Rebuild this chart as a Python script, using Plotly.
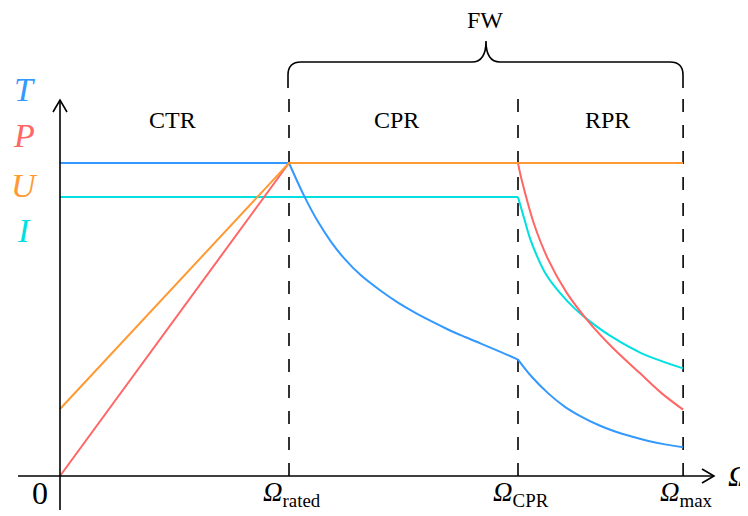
import plotly.graph_objects as go

# ---------------- data (Ω normalised so that Ω_rated = 1) ----------------
omega_ticks = [1.0, 2.0, 2.721]
tick_labels = ["<i>Ω</i><sub>rated</sub>", "<i>Ω</i><sub>CPR</sub>", "<i>Ω</i><sub>max</sub>"]
region_labels = ["CTR", "CPR", "RPR"]
region_centers = [0.49, 1.47, 2.39]

# T (torque)
T_ctr_omega = [0.0, 1.0]
T_ctr = [1.0, 1.0]
T_cpr_omega = [1.0, 1.066, 1.127, 1.183, 1.240, 1.314, 1.402, 1.476, 1.550, 1.620,
               1.694, 1.769, 1.838, 1.913, 2.0]
T_cpr = [1.0, 0.895, 0.812, 0.749, 0.696, 0.641, 0.591, 0.554, 0.522, 0.495,
         0.468, 0.444, 0.423, 0.400, 0.372]
T_rpr_omega = [2.0, 2.060, 2.132, 2.205, 2.278, 2.351, 2.424, 2.496, 2.569, 2.642, 2.721]
T_rpr = [0.372, 0.317, 0.264, 0.221, 0.189, 0.163, 0.142, 0.126, 0.112, 0.101, 0.092]

# P (power)
P_lin_omega = [0.0, 1.0, 2.0]
P_lin = [0.0, 1.0, 1.0]
P_rpr_omega = [2.0, 2.013, 2.031, 2.070, 2.131, 2.213, 2.306, 2.409, 2.533, 2.628, 2.721]
P_rpr = [1.0, 0.955, 0.904, 0.805, 0.693, 0.585, 0.495, 0.413, 0.328, 0.264, 0.212]

# U (voltage)
U_omega = [0.0, 1.0, 2.721]
U_vals = [0.214, 1.0, 1.0]

# I (current)
I_flat_omega = [0.0, 2.0]
I_flat = [0.891, 0.891]
I_rpr_omega = [2.0, 2.015, 2.031, 2.052, 2.081, 2.124, 2.183, 2.249, 2.314, 2.409, 2.540, 2.721]
I_rpr = [0.891, 0.853, 0.812, 0.760, 0.706, 0.642, 0.585, 0.534, 0.494, 0.445, 0.392, 0.344]

# ---------------- styling ----------------
C_T = "#3399ff"
C_P = "#ff6666"
C_U = "#ff9933"
C_I = "#00e0e0"
OFF = 8          # page body margin
W = 748 - OFF
H = 516 - OFF
FONT = "Liberation Serif, Times New Roman, serif"

fig = go.Figure()


def add(xs, ys, color, spline=False):
    fig.add_trace(go.Scatter(
        x=xs, y=ys, mode="lines",
        line=dict(color=color, width=2, shape="spline" if spline else "linear", smoothing=1.0),
        hoverinfo="skip", showlegend=False))


add(I_flat_omega, I_flat, C_I)
add(I_rpr_omega, I_rpr, C_I, spline=True)
add(T_ctr_omega, T_ctr, C_T)
add(T_cpr_omega, T_cpr, C_T, spline=True)
add(T_rpr_omega, T_rpr, C_T, spline=True)
add(P_lin_omega, P_lin, C_P)
add(P_rpr_omega, P_rpr, C_P, spline=True)
add(U_omega, U_vals, C_U)


# window-pixel helpers for decorations (paper coordinates)
def px(x):
    return (x - OFF) / W


def py(y):
    return 1 - (y - OFF) / H


LW = 1.6
shapes = []
# axes
shapes.append(dict(type="line", xref="paper", yref="paper", x0=px(60), x1=px(60), y0=py(510), y1=py(100),
                   line=dict(color="black", width=LW)))
shapes.append(dict(type="line", xref="paper", yref="paper", x0=px(18), x1=px(714), y0=py(476), y1=py(476),
                   line=dict(color="black", width=LW)))
shapes.append(dict(type="path", xref="paper", yref="paper",
                   path=f"M {px(53)},{py(112)} L {px(60)},{py(100)} L {px(67)},{py(112)}",
                   line=dict(color="black", width=LW)))
shapes.append(dict(type="path", xref="paper", yref="paper",
                   path=f"M {px(702)},{py(469)} L {px(714)},{py(476)} L {px(702)},{py(483)}",
                   line=dict(color="black", width=LW)))
# dashed region boundaries
for xv in omega_ticks:
    shapes.append(dict(type="line", xref="x", yref="paper", x0=xv, x1=xv, y0=py(476), y1=py(98),
                       line=dict(color="black", width=LW, dash="13px,13px"), layer="below"))
# brace
pts = [(288, 88), (288, 75), (288, 62), (301, 62), (472, 62), (486, 62), (486, 41),
       (486, 62), (500, 62), (670, 62), (683, 62), (683, 75), (683, 88)]
p = [(px(a), py(b)) for a, b in pts]
brace = (f"M {p[0][0]},{p[0][1]} L {p[1][0]},{p[1][1]} Q {p[2][0]},{p[2][1]} {p[3][0]},{p[3][1]} "
         f"L {p[4][0]},{p[4][1]} Q {p[5][0]},{p[5][1]} {p[6][0]},{p[6][1]} "
         f"Q {p[7][0]},{p[7][1]} {p[8][0]},{p[8][1]} L {p[9][0]},{p[9][1]} "
         f"Q {p[10][0]},{p[10][1]} {p[11][0]},{p[11][1]} L {p[12][0]},{p[12][1]}")
shapes.append(dict(type="path", xref="paper", yref="paper", path=brace,
                   line=dict(color="black", width=LW)))

ann = []


def text(x, y, s, size, color="black", xref="paper", xanchor="center"):
    ann.append(dict(x=x, y=y, xref=xref, yref="paper", text=s, showarrow=False,
                    xanchor=xanchor, yanchor="middle",
                    font=dict(family=FONT, size=size, color=color)))


text(px(485), py(20), "FW", 24)
for c, lab in zip(region_centers, region_labels):
    text(c, py(120), lab, 24, xref="x")
for xv, lab in zip(omega_ticks, tick_labels):
    text(xv + 0.015, py(494), lab, 27, xref="x")
text(px(40), py(493), "0", 32)
text(px(726), py(475), "<i>Ω</i>", 30, xanchor="left")
for lab, yy, col in [("T", 90, C_T), ("P", 135, C_P), ("U", 185, C_U), ("I", 230, C_I)]:
    text(px(24), py(yy), f"<i>{lab}</i>", 34, color=col)

fig.update_layout(
    width=W, height=H,
    margin=dict(l=0, r=0, t=0, b=0),
    paper_bgcolor="white", plot_bgcolor="white",
    xaxis=dict(visible=False, range=[-(60 - OFF) / 229, (W - (60 - OFF)) / 229], fixedrange=True),
    yaxis=dict(visible=False, range=[((476 - OFF) - H) / 313, (476 - OFF) / 313], fixedrange=True),
    shapes=shapes, annotations=ann, showlegend=False,
)

fig.write_html("out.html")
